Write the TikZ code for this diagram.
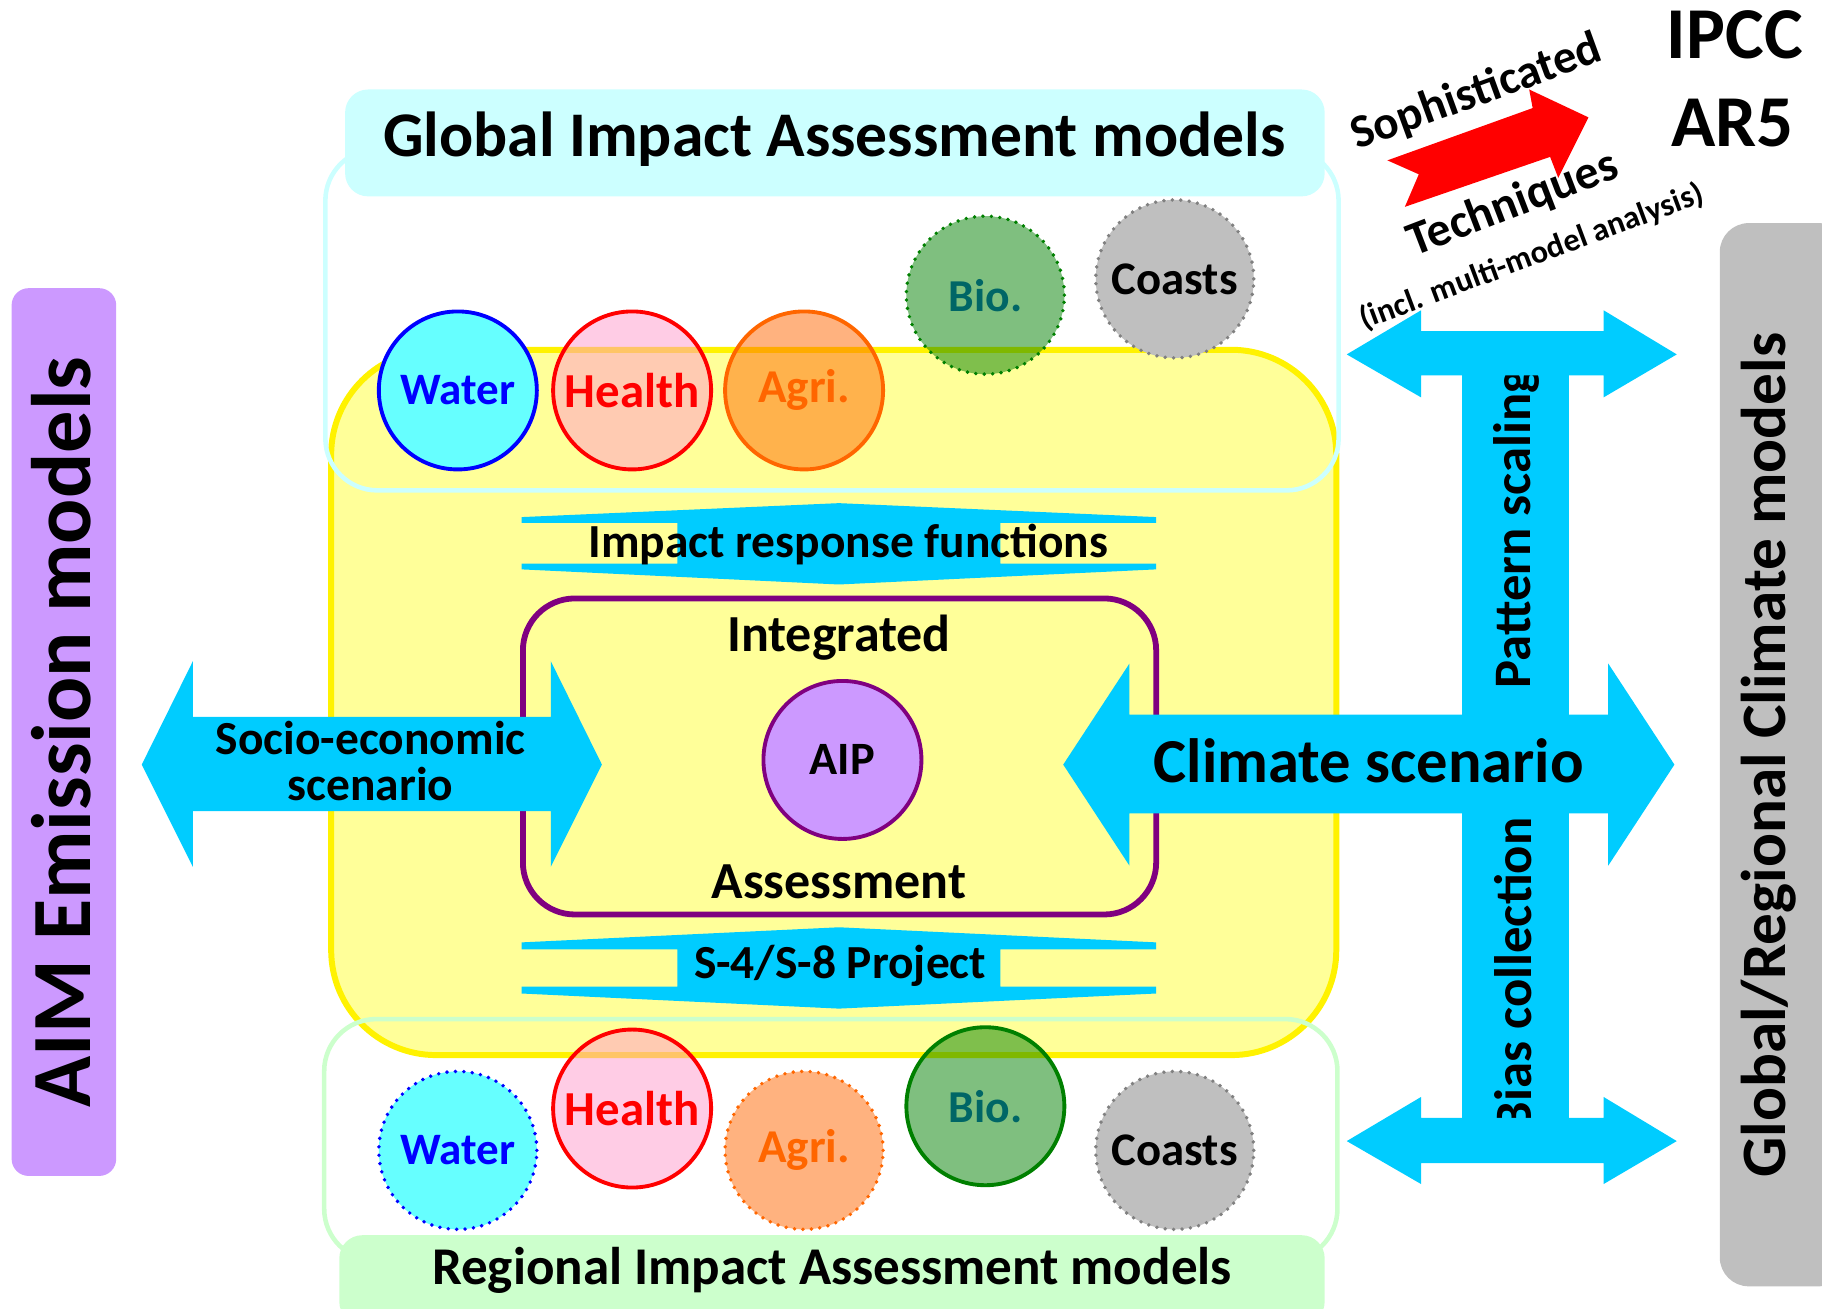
\documentclass[tikz,border=0pt]{standalone}
\usepackage{fontspec}
\setmainfont{Carlito}
\definecolor{arrowcyan}{HTML}{00CCFF}
\definecolor{coreyellow}{HTML}{FFFF99}
\definecolor{globalcyan}{HTML}{CCFFFF}
\definecolor{regionalgreen}{HTML}{CCFFCC}
\definecolor{purplebox}{HTML}{800080}
\definecolor{aiplilac}{HTML}{CC99FF}
\definecolor{waterfill}{HTML}{66FFFF}
\definecolor{healthpink}{HTML}{FF99CC}
\definecolor{agriorange}{HTML}{FF6600}
\definecolor{biogreen}{HTML}{008000}
\definecolor{biotext}{HTML}{006666}
\definecolor{coastgray}{HTML}{BFBFBF}
\definecolor{coastline}{HTML}{808080}
\newcommand\fsz[1]{\fontsize{#1}{#1}\selectfont\bfseries}

\begin{document}
\begin{tikzpicture}[x=1.162cm,y=-1.162cm,font=\bfseries,
    sector/.style={circle,minimum size=15.8mm,inner sep=0pt,line width=1.1pt},
    dotline/.style={line cap=round,dash pattern=on 0pt off 2.4pt},
    seethru/.style={fill opacity=0.5,text opacity=1},
    sidetext/.style={rotate=90,inner sep=0pt}]
  \useasboundingbox (0,0) rectangle (15.68,11.26);

  % side model boxes
  \fill[aiplilac,rounded corners=1.7mm] (0.10,2.48) rectangle (1.00,10.12);
  \fill[coastgray,rounded corners=2.9mm] (14.80,1.92) rectangle (15.90,11.07);
  \node[sidetext,font=\fsz{24}] (aim) at (0.53,6.30) {AIM Emission models};
  \node[sidetext,font=\fsz{18}] (gcm) at (15.22,6.50) {Global/Regional Climate models};

  % yellow core and the two model groups
  \draw[fill=coreyellow,draw=yellow,line width=1.7pt,rounded corners=10.5mm]
    (2.85,3.01) rectangle (11.50,9.08);
  \draw[globalcyan,line width=1.3pt,rounded corners=5.2mm] (2.80,1.28) rectangle (11.52,4.22);
  \draw[regionalgreen,line width=1.3pt,rounded corners=5.2mm] (2.79,8.77) rectangle (11.51,10.85);
  \fill[globalcyan,rounded corners=2.3mm] (2.97,0.77) rectangle (11.40,1.69);
  \fill[regionalgreen,rounded corners=2.3mm] (2.92,10.63) rectangle (11.40,11.40);
  \node[font=\fsz{18.1}] (global) at (7.18,1.20) {Global Impact Assessment models};
  \node[font=\fsz{15.1}] (regional) at (7.16,10.93) {Regional Impact Assessment models};

  % global sectors
  \node[sector,fill=waterfill,draw=blue,text=blue,font=\fsz{12.8}] (gwater) at (3.94,3.36) {Water};
  \node[sector,seethru,fill=healthpink,draw=red,text=red,font=\fsz{13.9}] (ghealth) at (5.44,3.36) {Health};
  \node[sector,seethru,fill=agriorange,draw=agriorange,text=agriorange,font=\fsz{13.4}] (gagri) at (6.92,3.36) {Agri.};
  \node[sector,seethru,dotline,fill=biogreen,draw=biogreen,text=biotext,font=\fsz{13}] (gbio) at (8.48,2.54) {Bio.};
  \node[sector,dotline,fill=coastgray,draw=coastline,font=\fsz{13.3}] (gcoasts) at (10.11,2.40) {Coasts};

  % regional sectors
  \node[sector,dotline,fill=waterfill,draw=blue,text=blue,font=\fsz{12.8}] (rwater) at (3.94,9.90) {Water};
  \node[sector,seethru,fill=healthpink,draw=red,text=red,font=\fsz{13.9}] (rhealth) at (5.44,9.54) {Health};
  \node[sector,seethru,dotline,fill=agriorange,draw=agriorange,text=agriorange,font=\fsz{13.4}] (ragri) at (6.92,9.90) {Agri.};
  \node[sector,seethru,fill=biogreen,draw=biogreen,text=biotext,font=\fsz{13}] (rbio) at (8.48,9.52) {Bio.};
  \node[sector,dotline,fill=coastgray,draw=coastline,font=\fsz{13.3}] (rcoasts) at (10.11,9.90) {Coasts};

  % integrated assessment
  \draw[purplebox,line width=1.65pt,rounded corners=5.2mm] (4.50,5.15) rectangle (9.95,7.87);
  \node[font=\fsz{14.8}] (integrated) at (7.22,5.49) {Integrated};
  \node[font=\fsz{14.8}] (assessment) at (7.22,7.59) {Assessment};
  \node[circle,minimum size=15.8mm,fill=aiplilac,draw=purplebox,line width=1.1pt,
    font=\fsz{13.2}] (aip) at (7.25,6.54) {AIP};

  % cyan links
  \begin{scope}[arrowcyan]
    \fill (4.49,4.45) -- (7.22,4.33) -- (9.95,4.45) -- (9.95,4.50) -- (8.61,4.50) -- (8.61,4.85)
      -- (9.95,4.85) -- (9.95,4.90) -- (7.22,5.03) -- (4.49,4.90) -- (4.49,4.85) -- (5.83,4.85)
      -- (5.83,4.50) -- (4.49,4.50) -- cycle;
    \fill (4.49,8.11) -- (7.22,7.98) -- (9.95,8.11) -- (9.95,8.17) -- (8.61,8.17) -- (8.61,8.49)
      -- (9.95,8.49) -- (9.95,8.55) -- (7.22,8.68) -- (4.49,8.55) -- (4.49,8.49) -- (5.83,8.49)
      -- (5.83,8.17) -- (4.49,8.17) -- cycle;
    \fill (1.22,6.58) -- (1.66,5.69) -- (1.66,6.17) -- (4.74,6.17) -- (4.74,5.69) -- (5.18,6.58)
      -- (4.74,7.46) -- (4.74,6.98) -- (1.66,6.98) -- (1.66,7.46) -- cycle;
    \fill (12.58,3.04) rectangle (13.50,9.82);
  \end{scope}
  \node[sidetext,anchor=west,font=\fsz{15}] (pattern) at (13.05,5.93) {Pattern scaling};
  \node[sidetext,anchor=east,font=\fsz{15}] (bias) at (13.02,7.03) {Bias collection};
  \begin{scope}[arrowcyan]
    \fill (11.59,3.05) -- (12.23,2.67) -- (12.23,2.85) -- (13.80,2.85) -- (13.80,2.67) -- (14.43,3.05)
      -- (13.80,3.42) -- (13.80,3.23) -- (12.23,3.23) -- (12.23,3.42) -- cycle;
    \fill (11.59,9.82) -- (12.23,9.44) -- (12.23,9.62) -- (13.80,9.62) -- (13.80,9.44) -- (14.43,9.82)
      -- (13.80,10.19) -- (13.80,10.01) -- (12.23,10.01) -- (12.23,10.19) -- cycle;
    \fill (9.15,6.58) -- (9.72,5.71) -- (9.72,6.15) -- (13.84,6.15) -- (13.84,5.71) -- (14.41,6.58)
      -- (13.84,7.45) -- (13.84,7.00) -- (9.72,7.00) -- (9.72,7.45) -- cycle;
  \end{scope}
  \node[font=\fsz{13.5}] (irf) at (7.30,4.69) {Impact response functions};
  \node[font=\fsz{13.5}] (project) at (7.23,8.31) {S-4/S-8 Project};
  \node[align=center,font=\fontsize{13.5}{13}\selectfont\bfseries] (socio) at (3.19,6.55)
    {Socio-economic\\scenario};
  \node[font=\fsz{17.8}] (climate) at (11.78,6.55) {Climate scenario};

  % towards AR5
  \fill[red] (11.94,1.38) -- (13.19,0.93) -- (13.16,0.77) -- (13.67,1.01) -- (13.41,1.53)
    -- (13.34,1.35) -- (12.09,1.78) -- (12.21,1.50) -- cycle;
  \node[rotate=20,font=\fsz{13.4}] (soph) at (12.71,0.80) {Sophisticated};
  \node[rotate=21,font=\fsz{13.6}] (tech) at (13.02,1.76) {Techniques};
  \node[rotate=20.5,font=\fsz{9.2},inner sep=0pt] (incl) at (13.18,2.21) {(incl. multi-model analysis)};
  \node[font=\fsz{20.8}] (ipcc) at (14.93,0.30) {IPCC};
  \node[font=\fsz{20.8}] (ar5) at (14.91,1.06) {AR5};
\end{tikzpicture}
\end{document}
